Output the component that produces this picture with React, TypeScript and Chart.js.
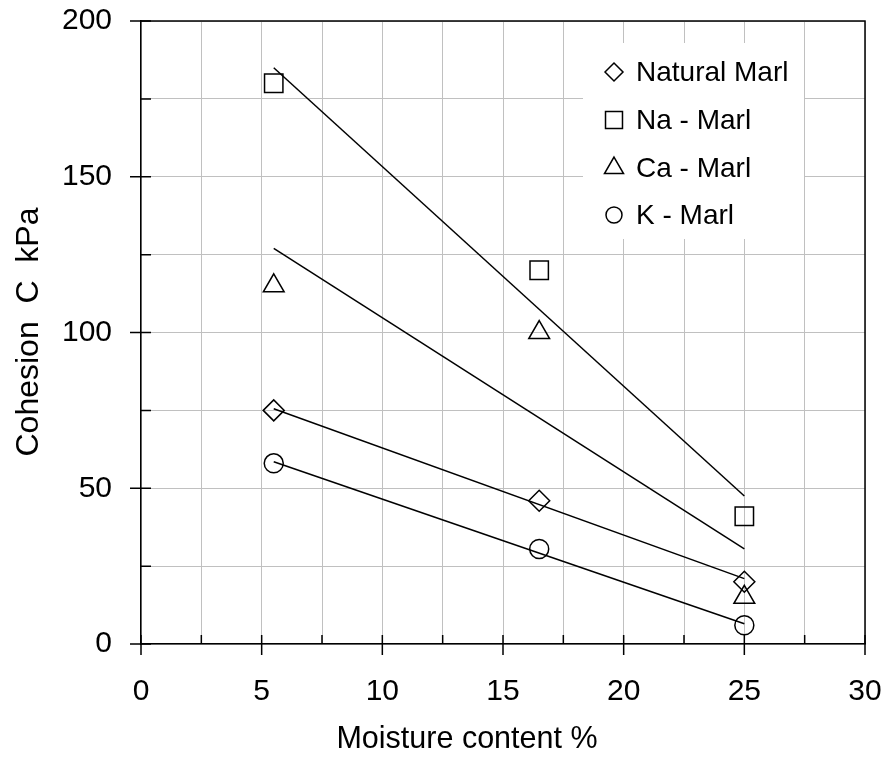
import React, { useEffect, useRef } from 'react';
import { Chart, registerables } from 'chart.js';

Chart.register(...registerables);

const moisture = [5.5, 16.5, 25];
const naturalMarl = [75, 46, 20];
const naMarl = [180, 120, 41];
const caMarl = [115, 100, 15];
const kMarl = [58, 30.5, 6];

const trendX = [5.5, 25];
const naturalTrend = [75.5, 21];
const naTrend = [185, 47.5];
const caTrend = [127, 30.5];
const kTrend = [58.5, 6.5];

const seriesNames = ['Natural Marl', 'Na - Marl', 'Ca - Marl', 'K - Marl'];
const xTitle = 'Moisture content %';
const yTitle = 'Cohesion  C  kPa';

const FONT = '"Liberation Sans", Arial, sans-serif';

const toPoints = (xs: number[], ys: number[]) => xs.map((x, i) => ({ x, y: ys[i] }));

function markerPath(ctx: CanvasRenderingContext2D, style: string, x: number, y: number, r: number) {
  ctx.beginPath();
  if (style === 'rectRot') {
    ctx.moveTo(x - r, y);
    ctx.lineTo(x, y - r);
    ctx.lineTo(x + r, y);
    ctx.lineTo(x, y + r);
    ctx.closePath();
  } else if (style === 'rect') {
    const h = r * Math.SQRT1_2;
    ctx.rect(x - h, y - h, 2 * h, 2 * h);
  } else if (style === 'triangle') {
    const a = (2 * Math.PI) / 3;
    ctx.moveTo(x, y - r);
    ctx.lineTo(x + Math.sin(a) * r, y - Math.cos(a) * r);
    ctx.lineTo(x + Math.sin(2 * a) * r, y - Math.cos(2 * a) * r);
    ctx.closePath();
  } else {
    ctx.arc(x, y, r, 0, Math.PI * 2);
  }
  ctx.stroke();
}

const legendStyles = ['rectRot', 'rect', 'triangle', 'circle'];
const legendRadii = [9, 12, 11, 8];

const decorPlugin = {
  id: 'decor',
  beforeDatasetsDraw(chart: any) {
    const ctx = chart.ctx as CanvasRenderingContext2D;
    ctx.save();
    ctx.fillStyle = '#ffffff';
    ctx.fillRect(583, 43, 221, 196);
    ctx.fillStyle = '#000';
    ctx.strokeStyle = '#000';
    ctx.lineWidth = 1.5;
    ctx.font = `28px ${FONT}`;
    ctx.textBaseline = 'middle';
    ctx.textAlign = 'left';
    const rows = [72, 120, 168, 215];
    seriesNames.forEach((name, i) => {
      markerPath(ctx, legendStyles[i], 614, rows[i], legendRadii[i]);
      ctx.fillText(name, 636, rows[i] + 1);
    });
    ctx.restore();
  },
  afterDraw(chart: any) {
    const ctx = chart.ctx as CanvasRenderingContext2D;
    const { left, right, top, bottom } = chart.chartArea;
    const xs = chart.scales.x;
    const ys = chart.scales.y;
    ctx.save();
    ctx.strokeStyle = '#000';
    ctx.lineWidth = 1.5;
    ctx.beginPath();
    ctx.moveTo(left, top);
    ctx.lineTo(right, top);
    ctx.lineTo(right, bottom);
    ctx.stroke();
    ctx.beginPath();
    xs.ticks.forEach((t: any) => {
      const px = xs.getPixelForValue(t.value);
      const major = Math.abs(t.value % 5) < 1e-6;
      ctx.moveTo(px, bottom - 9);
      ctx.lineTo(px, major ? bottom + 11 : bottom);
    });
    ys.ticks.forEach((t: any) => {
      const py = ys.getPixelForValue(t.value);
      const major = Math.abs(t.value % 50) < 1e-6;
      ctx.moveTo(major ? left - 11 : left, py);
      ctx.lineTo(left + 10, py);
    });
    ctx.stroke();
    ctx.fillStyle = '#000';
    ctx.textAlign = 'center';
    ctx.textBaseline = 'middle';
    ctx.font = `30.5px ${FONT}`;
    ctx.fillText(xTitle, 467, 740);
    ctx.font = `32px ${FONT}`;
    ctx.translate(29, 332);
    ctx.rotate(-Math.PI / 2);
    ctx.fillText(yTitle, 0, 0);
    ctx.restore();
  },
};

const zeroPad = (s: any) => {
  s.paddingTop = 0;
  s.paddingBottom = 0;
  s.paddingLeft = 0;
  s.paddingRight = 0;
};

export default function App() {
  const ref = useRef<HTMLCanvasElement | null>(null);
  useEffect(() => {
    if (!ref.current) return;
    const markerCommon = {
      showLine: false,
      borderColor: '#000',
      backgroundColor: 'rgba(0,0,0,0)',
      pointBorderColor: '#000',
      pointBackgroundColor: 'rgba(0,0,0,0)',
      pointBorderWidth: 1.5,
    };
    const lineCommon = {
      showLine: true,
      borderColor: '#000',
      borderWidth: 1.5,
      pointRadius: 0,
      fill: false,
    };
    const chart = new Chart(ref.current, {
      type: 'scatter',
      data: {
        datasets: [
          { ...lineCommon, label: 'trend natural', data: toPoints(trendX, naturalTrend) },
          { ...lineCommon, label: 'trend na', data: toPoints(trendX, naTrend) },
          { ...lineCommon, label: 'trend ca', data: toPoints(trendX, caTrend) },
          { ...lineCommon, label: 'trend k', data: toPoints(trendX, kTrend) },
          { ...markerCommon, label: seriesNames[0], data: toPoints(moisture, naturalMarl), pointStyle: 'rectRot', pointRadius: 10.5 },
          { ...markerCommon, label: seriesNames[1], data: toPoints(moisture, naMarl), pointStyle: 'rect', pointRadius: 13 },
          { ...markerCommon, label: seriesNames[2], data: toPoints(moisture, caMarl), pointStyle: 'triangle', pointRadius: 12 },
          { ...markerCommon, label: seriesNames[3], data: toPoints(moisture, kMarl), pointStyle: 'circle', pointRadius: 9.5 },
        ] as any,
      },
      options: {
        animation: false,
        responsive: false,
        layout: { padding: { left: 0, right: 23, top: 21, bottom: 0 } },
        plugins: { legend: { display: false }, tooltip: { enabled: false } },
        scales: {
          x: {
            type: 'linear',
            min: 0,
            max: 30,
            afterFit: (s: any) => { s.height = 120; zeroPad(s); },
            ticks: {
              stepSize: 2.5,
              autoSkip: false,
              maxRotation: 0,
              padding: 30,
              color: '#000',
              font: { family: FONT, size: 30 },
              callback: (v: any) => (Math.abs(Number(v) % 5) < 1e-6 ? String(v) : ''),
            },
            grid: { color: '#c0c0c0', lineWidth: 1, drawTicks: false },
            border: { display: true, color: '#000', width: 1.5 },
          },
          y: {
            type: 'linear',
            min: 0,
            max: 200,
            afterFit: (s: any) => { s.width = 141; zeroPad(s); },
            ticks: {
              stepSize: 25,
              autoSkip: false,
              padding: 29,
              color: '#000',
              font: { family: FONT, size: 30 },
              callback: (v: any) => (Math.abs(Number(v) % 50) < 1e-6 ? String(v) : ''),
            },
            grid: { color: '#c0c0c0', lineWidth: 1, drawTicks: false },
            border: { display: true, color: '#000', width: 1.5 },
          },
        },
      } as any,
      plugins: [decorPlugin],
    });
    return () => chart.destroy();
  }, []);
  return (
    <div style={{ position: 'fixed', left: 0, top: 0, width: 888, height: 764, background: '#fff' }}>
      <canvas ref={ref} width={888} height={764} style={{ display: 'block' }} />
    </div>
  );
}
